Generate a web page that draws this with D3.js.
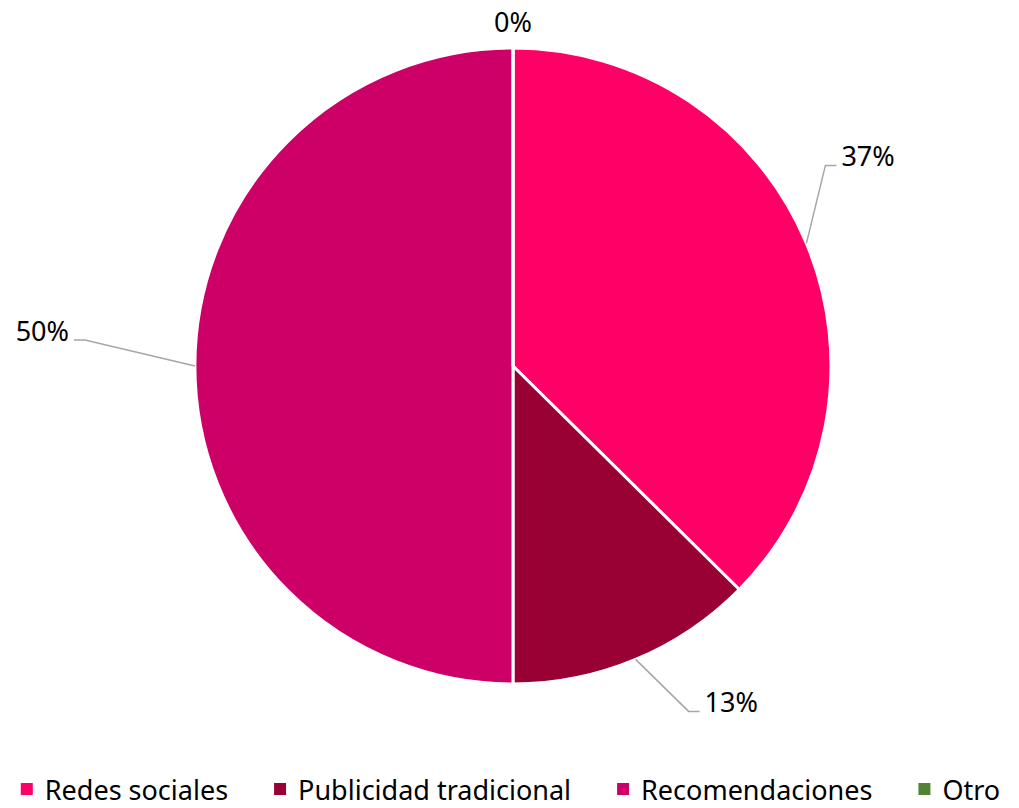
<!DOCTYPE html>
<html><head><meta charset="utf-8">
<script src="https://cdn.jsdelivr.net/npm/d3@7"></script>
<style>html,body{margin:0;padding:0;background:#fff}svg{display:block}</style>
</head><body>
<svg id="c" width="1019" height="808"></svg>
<script>
const categories = ["Redes sociales", "Publicidad tradicional", "Recomendaciones", "Otro"];
const values = [37.4, 12.6, 50, 0];
const labels = ["37%", "13%", "50%", "0%"];
const colors = ["#FF0066", "#990033", "#CC0066", "#548235"];

const svg = d3.select("#c");
const W = 1019, H = 808;
const cx = 513, cy = 366, R = 318;
const font = "'Noto Sans', 'Open Sans', sans-serif";

const pie = d3.pie().sort(null).value(d => d.v);
const data = pie(categories.map((c, i) => ({c, v: values[i], l: labels[i], col: colors[i]})));
const arc = d3.arc().innerRadius(0).outerRadius(R);

const g = svg.append("g").attr("transform", `translate(${cx},${cy})`);
g.selectAll("path").data(data).join("path")
  .attr("d", arc).attr("fill", d => d.data.col)
  .attr("stroke", "#fff").attr("stroke-width", 3).attr("stroke-linejoin", "round");

// label layout: elbow offsets relative to the slice edge point
const elbow = {"Redes sociales": [19, -78], "Publicidad tradicional": [53, 52], "Recomendaciones": [-110, -26]};
data.forEach(d => {
  const a = (d.startAngle + d.endAngle) / 2;
  const px = R * Math.sin(a), py = -R * Math.cos(a);
  const off = elbow[d.data.c];
  if (!off) {
    g.append("text").attr("x", px).attr("y", py - 16).attr("text-anchor", "middle")
      .attr("font-family", font).attr("font-size", 27).attr("fill", "#000").text(d.data.l);
    return;
  }
  const ex = px + off[0], ey = py + off[1];
  const side = off[0] >= 0 ? 1 : -1;
  const hx = ex + side * 11;
  g.append("polyline").attr("points", `${px},${py} ${ex},${ey} ${hx},${ey}`)
    .attr("fill", "none").attr("stroke", "#A6A6A6").attr("stroke-width", 1.5);
  g.append("text").attr("x", hx + side * 5).attr("y", ey + 1)
    .attr("text-anchor", side > 0 ? "start" : "end")
    .attr("font-family", font).attr("font-size", 27).attr("fill", "#000").text(d.data.l);
});

// legend
const lg = svg.append("g");
const items = lg.selectAll("g").data(categories).join("g");
items.append("rect").attr("width", 12).attr("height", 12).attr("y", -17)
  .attr("fill", (d, i) => colors[i]);
items.append("text").attr("x", 24).attr("y", 0)
  .attr("font-family", font).attr("font-size", 27).attr("fill", "#000").text(d => d);
let x = 0;
items.each(function() {
  const w = d3.select(this).select("text").node().getComputedTextLength();
  d3.select(this).attr("transform", `translate(${x},0)`);
  x += 24 + w + 46;
});
const total = x - 46;
lg.attr("transform", `translate(${(W - total) / 2 + 1},800)`);
</script>
</body></html>
